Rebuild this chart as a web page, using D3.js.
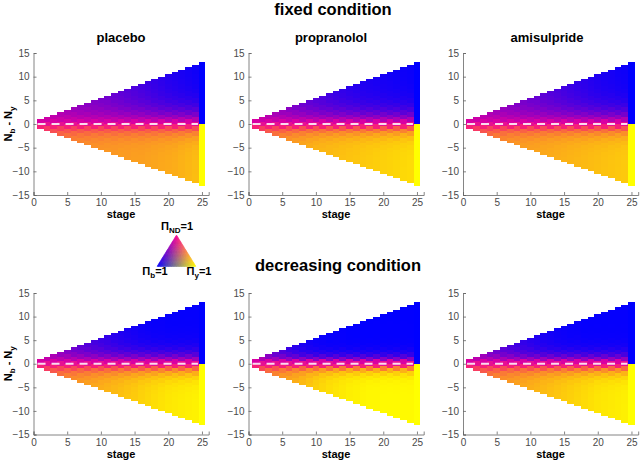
<!DOCTYPE html>
<html><head><meta charset="utf-8">
<script src="https://cdn.jsdelivr.net/npm/d3@7"></script>
<style>
body{margin:0;background:#fff;}
svg text{font-family:"Liberation Sans",Arial,Helvetica,sans-serif;}
</style></head>
<body><svg id="c" width="640" height="463"></svg>
<script>
// ---------------- data ----------------
const conditions = ["fixed condition", "decreasing condition"];
const drugs = ["placebo", "propranolol", "amisulpride"];
const stages = [1,2,3,4,5,6,7,8,9,10,11,12,13,14,15,16,17,18,19,20,21,22,23,24,25];
const xTicks = [0,5,10,15,20,25];
const yTicks = [-15,-10,-5,0,5,10,15];
// P(no decision) in the cells next to Nb-Ny = 0
const bandND = [0.88,0.88,0.88,0.88,0.88,0.88];
// P(no decision) far from the diagonal, per stage, on the blue side (top) and yellow side (bottom)
const fixedPlaceboTop     = [0.68,0.64,0.60,0.57,0.54,0.51,0.48,0.46,0.44,0.42,0.40,0.37,0.34,0.31,0.28,0.25,0.22,0.19,0.16,0.13,0.11,0.09,0.07,0.05,0];
const fixedPlaceboBot     = [0.60,0.55,0.50,0.47,0.45,0.43,0.42,0.41,0.40,0.40,0.39,0.39,0.38,0.38,0.37,0.37,0.36,0.35,0.34,0.33,0.32,0.30,0.28,0.26,0];
const fixedPropranololTop = [0.64,0.59,0.55,0.51,0.47,0.43,0.39,0.35,0.31,0.28,0.25,0.22,0.19,0.17,0.15,0.13,0.11,0.10,0.09,0.08,0.07,0.06,0.05,0.04,0];
const fixedPropranololBot = [0.60,0.52,0.46,0.42,0.39,0.36,0.34,0.32,0.30,0.28,0.27,0.26,0.25,0.24,0.23,0.22,0.21,0.20,0.19,0.18,0.17,0.16,0.15,0.14,0];
const fixedAmisulprideTop = [0.66,0.62,0.58,0.55,0.52,0.49,0.46,0.43,0.41,0.38,0.36,0.33,0.30,0.27,0.24,0.21,0.18,0.16,0.13,0.11,0.09,0.08,0.06,0.05,0];
const fixedAmisulprideBot = [0.60,0.53,0.48,0.45,0.42,0.40,0.38,0.37,0.36,0.35,0.34,0.33,0.32,0.31,0.30,0.29,0.28,0.27,0.26,0.25,0.24,0.23,0.22,0.21,0];
const decrPlaceboTop      = [0.62,0.56,0.50,0.45,0.40,0.35,0.31,0.27,0.23,0.20,0.17,0.14,0.11,0.09,0.07,0.05,0.04,0.03,0.03,0.02,0.02,0.02,0.02,0.02,0];
const decrPlaceboBot      = [0.60,0.52,0.47,0.43,0.40,0.38,0.36,0.34,0.32,0.30,0.28,0.26,0.24,0.22,0.20,0.17,0.15,0.13,0.11,0.09,0.08,0.07,0.06,0.05,0];
const decrPropranololTop  = [0.55,0.45,0.37,0.30,0.24,0.18,0.13,0.09,0.06,0.04,0.03,0.02,0.02,0.02,0.01,0.01,0.01,0.01,0.01,0.01,0.01,0.01,0.01,0.01,0];
const decrPropranololBot  = [0.58,0.50,0.44,0.40,0.36,0.33,0.30,0.26,0.22,0.18,0.15,0.12,0.10,0.08,0.06,0.05,0.04,0.03,0.03,0.02,0.02,0.02,0.02,0.02,0];
const decrAmisulprideTop  = [0.60,0.52,0.45,0.39,0.34,0.29,0.25,0.21,0.17,0.14,0.11,0.09,0.07,0.05,0.04,0.03,0.03,0.02,0.02,0.02,0.02,0.02,0.02,0.02,0];
const decrAmisulprideBot  = [0.60,0.53,0.48,0.44,0.41,0.38,0.36,0.34,0.32,0.30,0.28,0.26,0.24,0.22,0.20,0.18,0.16,0.14,0.12,0.10,0.09,0.08,0.07,0.06,0];
// spread of the no-decision zone (in units of Nb-Ny) on each side
const spreadTop = [5.0,4.2,4.6,3.2,2.0,2.6];
const spreadBot = [3.0,2.6,2.8,2.6,1.8,2.4];

const topArr = [fixedPlaceboTop, fixedPropranololTop, fixedAmisulprideTop, decrPlaceboTop, decrPropranololTop, decrAmisulprideTop];
const botArr = [fixedPlaceboBot, fixedPropranololBot, fixedAmisulprideBot, decrPlaceboBot, decrPropranololBot, decrAmisulprideBot];

// colours of the three pure states
const colB = [0,0,255], colY = [255,255,0], colND = [245,0,150];

// ---------------- layout ----------------
const svg = d3.select("#c");
const panelX0 = [33.5, 248.5, 463];
const panelW = 175.2;
const rowY = [[195, 53], [434.5, 293]];
const titleX = [121, 331, 547];

function mix(pb, py, pn, warm){
  const c = [0,1,2].map(i => pb*colB[i] + py*colY[i] + pn*colND[i]);
  if (warm) c[2] = pb*colB[2] + Math.pow(pn,1.6)*colND[2];
  return `rgb(${c.map(Math.round).join(",")})`;
}

svg.append("text").attr("x",333).attr("y",15).attr("text-anchor","middle")
  .attr("font-size",16.5).attr("font-weight","bold").text(conditions[0]);
svg.append("text").attr("x",338).attr("y",271).attr("text-anchor","middle")
  .attr("font-size",16.5).attr("font-weight","bold").text(conditions[1]);

for (let r=0;r<2;r++){
  for (let c=0;c<3;c++){
    const p = r*3+c;
    const x = d3.scaleLinear().domain([0,26]).range([panelX0[c], panelX0[c]+panelW]);
    const y = d3.scaleLinear().domain([-15,15]).range(rowY[r]);
    const g = svg.append("g");
    const cells = [];
    stages.forEach((t,ti)=>{
      for (let k=0;k<=t;k++){
        const d = 2*k - t; // Nb - Ny
        let pn, pb, py;
        if (t === stages[stages.length-1]) { pn = 0; }
        else if (Math.abs(d) <= 1) { pn = bandND[p]; }
        else {
          const far = d>0 ? topArr[p][ti] : botArr[p][ti];
          const w = d>0 ? spreadTop[p] : spreadBot[p];
          pn = far + (bandND[p]-far)*Math.exp(-(Math.abs(d)-1)/w);
        }
        if (d>0){ pb = 1-pn; py = 0; } else if (d<0){ py = 1-pn; pb = 0; } else { pb = py = (1-pn)/2; }
        cells.push({t, v:d/2, color: mix(pb,py,pn, d<0)});
      }
    });
    g.selectAll("rect").data(cells).enter().append("rect")
      .attr("x", d=>x(d.t-0.5)).attr("width", d=>x(d.t+0.5)-x(d.t-0.5))
      .attr("y", d=>y(d.v+0.5)).attr("height", d=>y(d.v-0.5)-y(d.v+0.5))
      .attr("fill", d=>d.color).attr("shape-rendering","crispEdges");
    // dashed zero line
    g.append("line").attr("x1",x(0.6)).attr("x2",x(24.4)).attr("y1",y(0)).attr("y2",y(0))
      .attr("stroke","#fff").attr("stroke-opacity",0.85).attr("stroke-width",2).attr("stroke-dasharray","8,6");
    // axes
    const ax = d3.axisBottom(x).tickValues(xTicks).tickSize(-3).tickPadding(4);
    const ay = d3.axisLeft(y).tickValues(yTicks).tickSize(-3).tickPadding(4);
    const gx = g.append("g").attr("transform",`translate(0,${rowY[r][0]})`).call(ax);
    const gy = g.append("g").attr("transform",`translate(${panelX0[c]},0)`).call(ay);
    [gx,gy].forEach(a=>{
      a.selectAll("path").attr("stroke","#666").attr("stroke-width",0.8);
      a.selectAll("line").attr("stroke","#666").attr("stroke-width",0.8);
      a.selectAll("text").attr("fill","#4a4a4a").attr("font-size",10).attr("font-family","Liberation Sans,Arial,sans-serif");
    });
    g.append("text").attr("x",x(13)).attr("y",rowY[r][0]+23).attr("text-anchor","middle")
      .attr("font-size",11).attr("font-weight","bold").text("stage");
    if (r===0){
      svg.append("text").attr("x",titleX[c]).attr("y",42).attr("text-anchor","middle")
        .attr("font-size",13).attr("font-weight","bold").text(drugs[c]);
    }
    if (c===0){
      const cy = y(0);
      const lab = svg.append("text").attr("transform",`translate(12,${cy}) rotate(-90)`)
        .attr("text-anchor","middle").attr("font-size",11).attr("font-weight","bold");
      lab.append("tspan").text("N");
      lab.append("tspan").attr("font-size",8).attr("dy",3).text("b");
      lab.append("tspan").attr("dy",-3).text(" - N");
      lab.append("tspan").attr("font-size",8).attr("dy",3).text("y");
    }
  }
}

// ---------------- ternary legend ----------------
const apex = [176.5,235], left = [157,266.5], right = [196,266.5];
const N = 24;
const lg = svg.append("g");
for (let i=0;i<N;i++){
  for (let j=0;j<N-i;j++){
    const tri = (a,b,cc)=>{ // barycentric coords (weights of left, right, apex)
      const pts = [a,b,cc].map(q=>[q[0]*left[0]+q[1]*right[0]+q[2]*apex[0], q[0]*left[1]+q[1]*right[1]+q[2]*apex[1]]);
      const m = [(a[0]+b[0]+cc[0])/3,(a[1]+b[1]+cc[1])/3,(a[2]+b[2]+cc[2])/3];
      const col = mix(m[0],m[1],m[2],false);
      lg.append("path").attr("d", d3.line()(pts)+"Z").attr("fill", col)
        .attr("stroke", col).attr("stroke-width",0.4);
    };
    const w = (a,b)=>[1-(a+b)/N, a/N, b/N];
    tri(w(i,j), w(i+1,j), w(i,j+1));
    if (j < N-i-1) tri(w(i+1,j), w(i+1,j+1), w(i,j+1));
  }
}
function piLabel(x, yy, sub, anchor){
  const t = svg.append("text").attr("x",x).attr("y",yy).attr("text-anchor",anchor)
    .attr("font-size",11).attr("font-weight","bold");
  t.append("tspan").text("\u03A0");
  t.append("tspan").attr("font-size",8).attr("dy",3).text(sub);
  t.append("tspan").attr("dy",-3).text("=1");
}
piLabel(177, 230, "ND", "middle");
piLabel(155, 275, "b", "middle");
piLabel(199, 275, "y", "middle");
</script></body></html>
